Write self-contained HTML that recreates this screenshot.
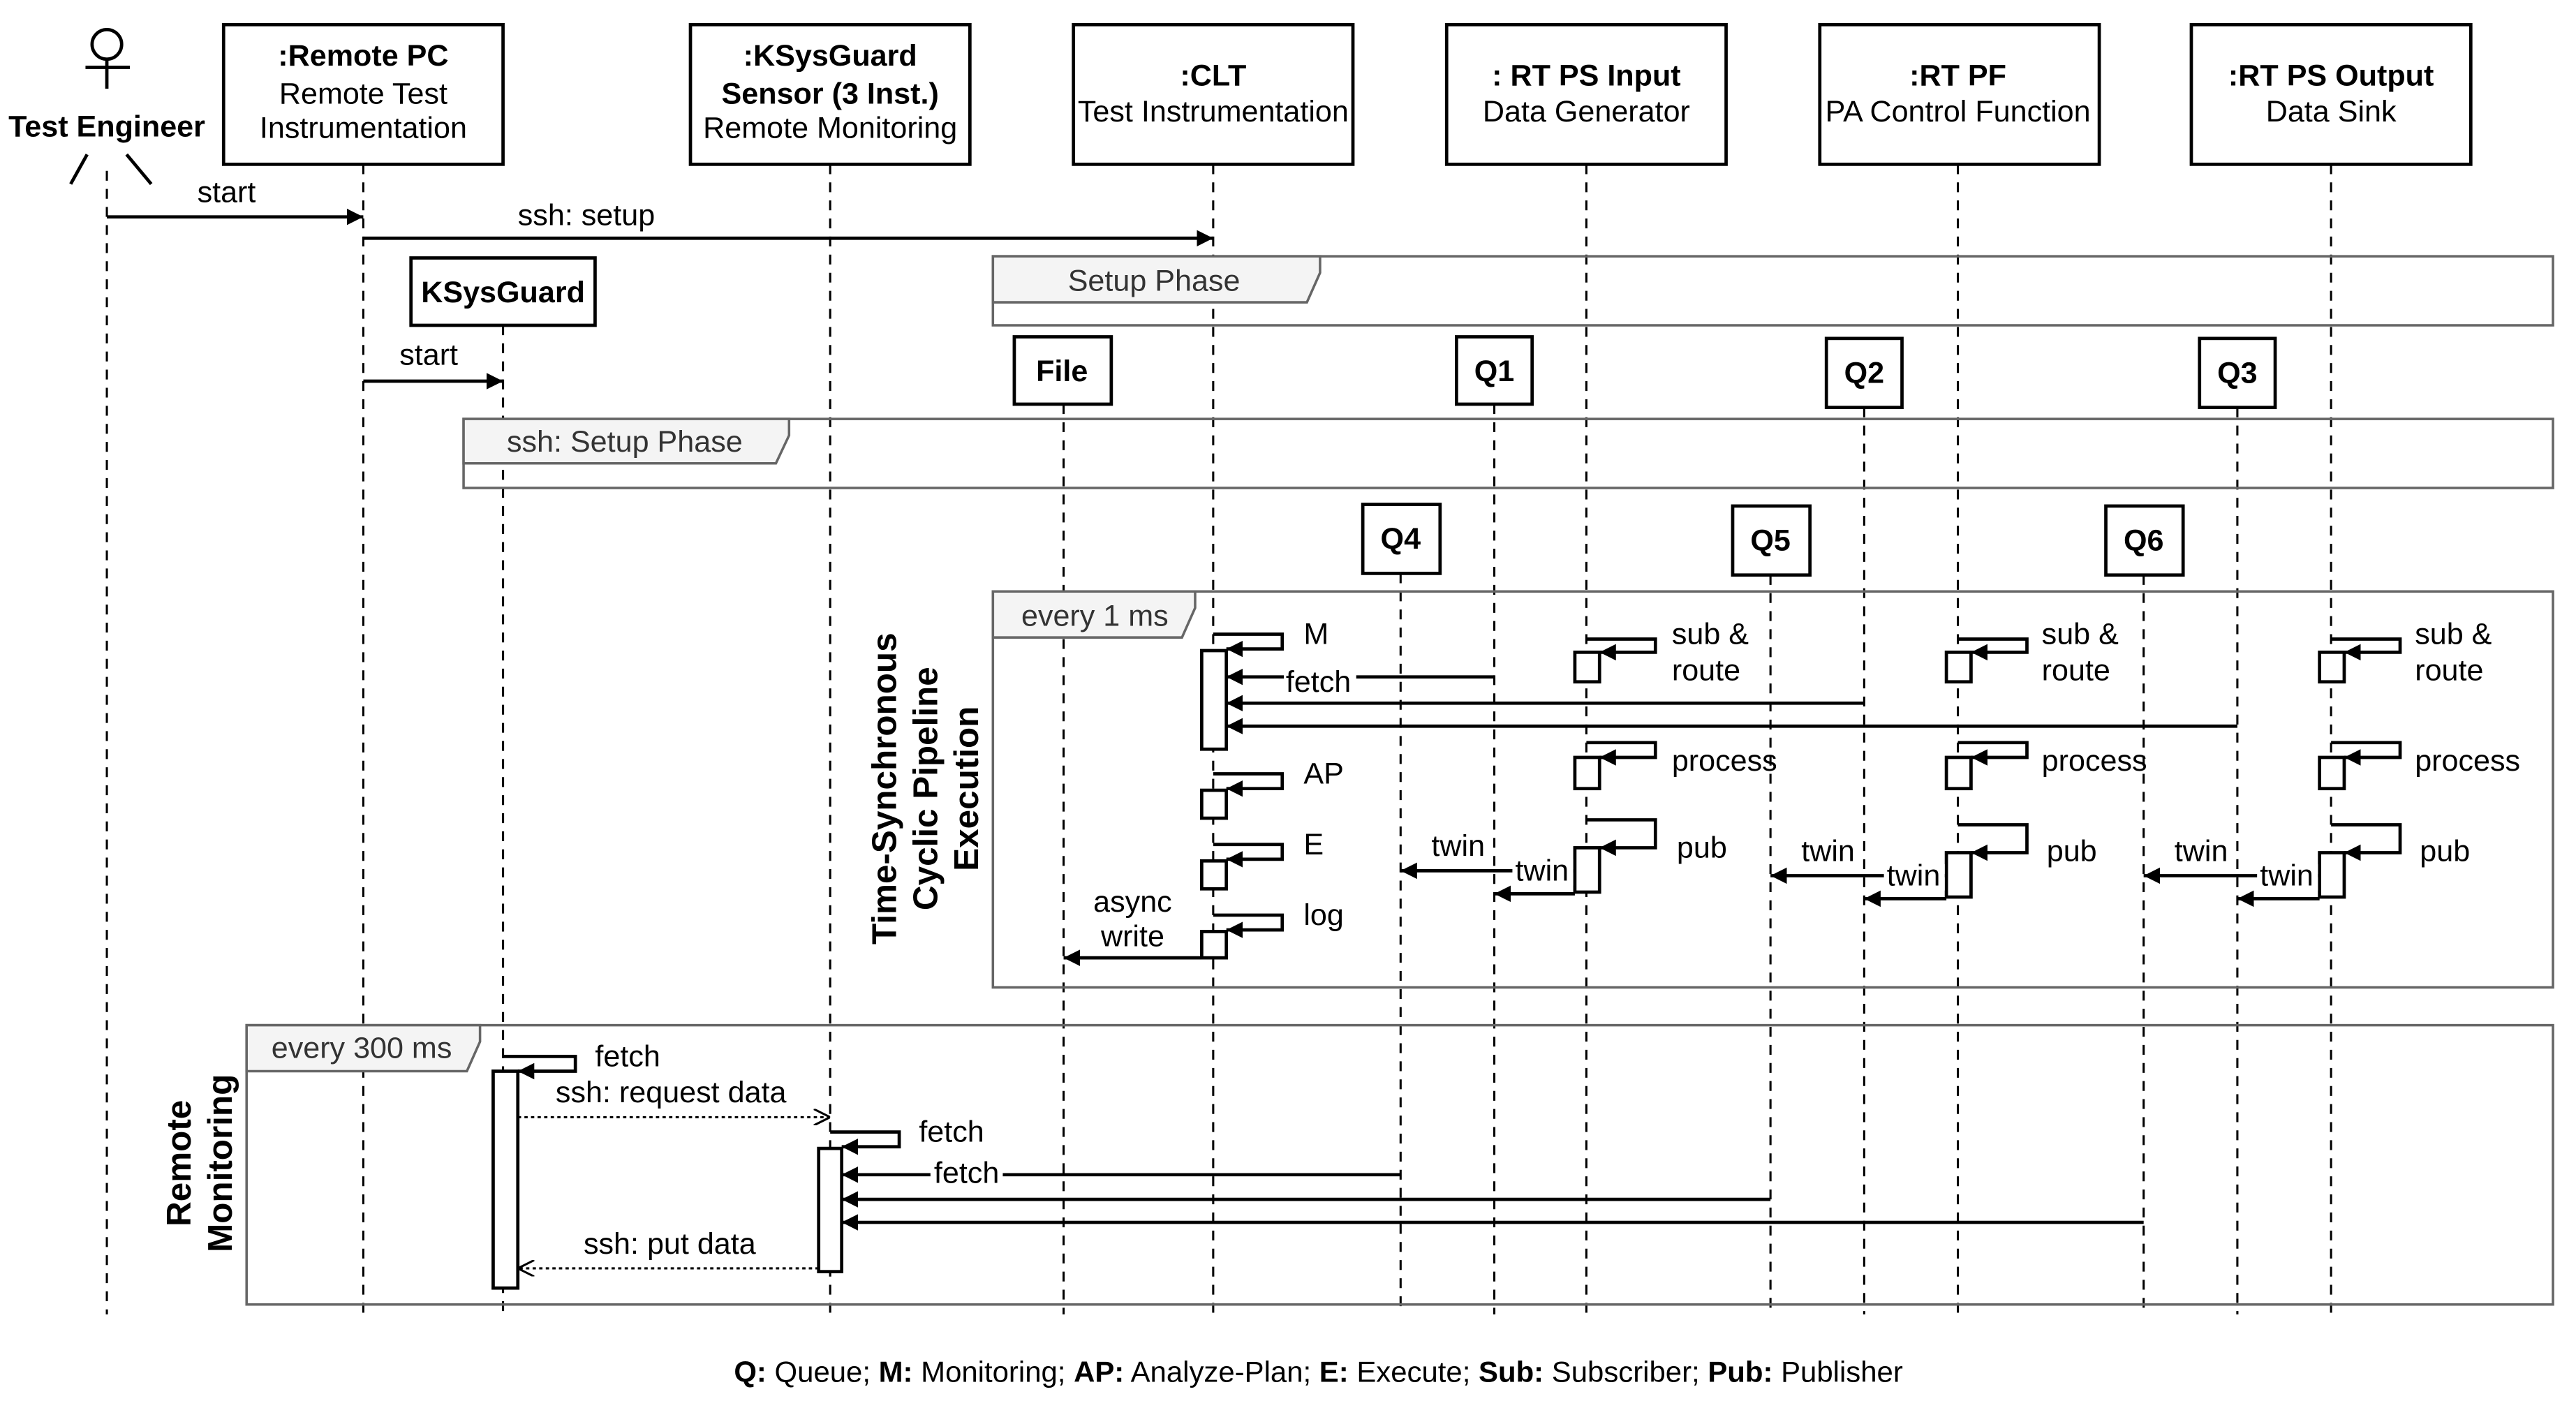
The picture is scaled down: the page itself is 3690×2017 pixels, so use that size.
<!DOCTYPE html>
<html><head><meta charset="utf-8"><style>
html,body{margin:0;padding:0;background:#fff}
svg{display:block}
text{font-family:"Liberation Sans",Arial,sans-serif;font-size:18.3px;fill:#000}
.b{font-weight:bold}
.g{fill:#333}
</style></head><body>
<svg width="3690" height="2017" viewBox="0 0 1567 857" preserveAspectRatio="none" xmlns="http://www.w3.org/2000/svg">
<defs>
<marker id="a" viewBox="0 0 10 10" refX="10" refY="5" markerWidth="10" markerHeight="10" markerUnits="userSpaceOnUse" orient="auto"><path d="M0,0L10,5L0,10z" fill="#000"/></marker>
<marker id="o" viewBox="0 0 10 10" refX="10" refY="5" markerWidth="10" markerHeight="10" markerUnits="userSpaceOnUse" orient="auto"><path d="M0,0L10,5L0,10" fill="none" stroke="#000" stroke-width="1.3"/></marker>
</defs>
<rect width="1567" height="857" fill="#fff"/>
<g stroke="#000" stroke-width="1.3" stroke-dasharray="6,5" fill="none">
<line x1="65" y1="104" x2="65" y2="800"/>
<line x1="221" y1="100" x2="221" y2="800"/>
<line x1="306" y1="198" x2="306" y2="800"/>
<line x1="505" y1="100" x2="505" y2="800"/>
<line x1="647" y1="246" x2="647" y2="800"/>
<line x1="738" y1="100" x2="738" y2="800"/>
<line x1="852" y1="349" x2="852" y2="800"/>
<line x1="909" y1="246" x2="909" y2="800"/>
<line x1="965" y1="100" x2="965" y2="800"/>
<line x1="1077" y1="350" x2="1077" y2="800"/>
<line x1="1134" y1="248" x2="1134" y2="800"/>
<line x1="1191" y1="100" x2="1191" y2="800"/>
<line x1="1304" y1="350" x2="1304" y2="800"/>
<line x1="1361" y1="248" x2="1361" y2="800"/>
<line x1="1418" y1="100" x2="1418" y2="800"/>
</g>
<g stroke="#666" stroke-width="1.5">
<rect x="604" y="156" width="949" height="42" fill="none"/>
<path d="M604,156H803V166L795,184H604Z" fill="#f4f4f4"/>
<rect x="282" y="255" width="1271" height="42" fill="none"/>
<path d="M282,255H480V265L472,282H282Z" fill="#f4f4f4"/>
<rect x="604" y="360" width="949" height="241" fill="none"/>
<path d="M604,360H727V370L719,388H604Z" fill="#f4f4f4"/>
<rect x="150" y="624" width="1403" height="170" fill="none"/>
<path d="M150,624H292V634L284,652H150Z" fill="#f4f4f4"/>
</g>
<text x="702" y="177" text-anchor="middle" class="g">Setup Phase</text>
<text x="380" y="275" text-anchor="middle" class="g">ssh: Setup Phase</text>
<text x="666" y="381" text-anchor="middle" class="g">every 1 ms</text>
<text x="220" y="644" text-anchor="middle" class="g">every 300 ms</text>
<g stroke="#000" stroke-width="2" fill="none">
<circle cx="65" cy="27" r="9"/>
<line x1="52" y1="41" x2="79" y2="41"/>
<line x1="65" y1="36" x2="65" y2="54"/>
<line x1="53" y1="94" x2="43" y2="112"/>
<line x1="77" y1="94" x2="92" y2="112"/>
</g>
<text x="65" y="83" text-anchor="middle" class="b">Test Engineer</text>
<g stroke="#000" stroke-width="2" fill="#fff">
<rect x="136" y="15" width="170" height="85"/>
<rect x="420" y="15" width="170" height="85"/>
<rect x="653" y="15" width="170" height="85"/>
<rect x="880" y="15" width="170" height="85"/>
<rect x="1107" y="15" width="170" height="85"/>
<rect x="1333" y="15" width="170" height="85"/>
<rect x="250" y="157" width="112" height="41"/>
<rect x="617" y="205" width="59" height="41"/>
<rect x="886" y="205" width="46" height="41"/>
<rect x="1111" y="206" width="46" height="42"/>
<rect x="1338" y="206" width="46" height="42"/>
<rect x="829" y="307" width="47" height="42"/>
<rect x="1054" y="308" width="47" height="42"/>
<rect x="1281" y="308" width="47" height="42"/>
</g>
<g text-anchor="middle">
<text x="221" y="40" class="b">:Remote PC</text><text x="221" y="63">Remote Test</text><text x="221" y="84">Instrumentation</text>
<text x="505" y="40" class="b">:KSysGuard</text><text x="505" y="63" class="b">Sensor (3 Inst.)</text><text x="505" y="84">Remote Monitoring</text>
<text x="738" y="52" class="b">:CLT</text><text x="738" y="74">Test Instrumentation</text>
<text x="965" y="52" class="b">: RT PS Input</text><text x="965" y="74">Data Generator</text>
<text x="1191" y="52" class="b">:RT PF</text><text x="1191" y="74">PA Control Function</text>
<text x="1418" y="52" class="b">:RT PS Output</text><text x="1418" y="74">Data Sink</text>
<text x="306" y="184" class="b">KSysGuard</text>
<text x="646" y="232" class="b">File</text>
<text x="909" y="232" class="b">Q1</text>
<text x="1134" y="233" class="b">Q2</text>
<text x="1361" y="233" class="b">Q3</text>
<text x="852" y="334" class="b">Q4</text>
<text x="1077" y="335" class="b">Q5</text>
<text x="1304" y="335" class="b">Q6</text>
</g>
<g stroke="#000" stroke-width="2" fill="none" marker-end="url(#a)">
<line x1="65" y1="132" x2="221" y2="132"/>
<line x1="221" y1="145" x2="738" y2="145"/>
<line x1="221" y1="232" x2="306" y2="232"/>
<path d="M738,386H780V395H746"/>
<path d="M738,471H780V480H746"/>
<path d="M738,514H780V523H746"/>
<path d="M738,557H780V566H746"/>
<line x1="909" y1="412" x2="746" y2="412"/>
<line x1="1134" y1="428" x2="746" y2="428"/>
<line x1="1361" y1="442" x2="746" y2="442"/>
<line x1="731" y1="583" x2="647" y2="583"/>
<path d="M965,389H1007V397H973"/><path d="M965,452H1007V461H973"/><path d="M965,499H1007V516H973"/>
<line x1="958" y1="530" x2="852" y2="530"/><line x1="958" y1="544" x2="909" y2="544"/>
<path d="M1191,389H1233V397H1199"/><path d="M1191,452H1233V461H1199"/><path d="M1191,502H1233V519H1199"/>
<line x1="1184" y1="533" x2="1077" y2="533"/><line x1="1184" y1="547" x2="1134" y2="547"/>
<path d="M1418,389H1460V397H1426"/><path d="M1418,452H1460V461H1426"/><path d="M1418,502H1460V519H1426"/>
<line x1="1411" y1="533" x2="1304" y2="533"/><line x1="1411" y1="547" x2="1361" y2="547"/>
<path d="M306,643H350V652H315"/>
<path d="M505,689H547V698H512"/>
<line x1="852" y1="715" x2="512" y2="715"/>
<line x1="1077" y1="730" x2="512" y2="730"/>
<line x1="1304" y1="744" x2="512" y2="744"/>
</g>
<g stroke="#000" stroke-width="1.3" fill="none" stroke-dasharray="2,2" marker-end="url(#o)">
<line x1="315" y1="680" x2="505" y2="680"/>
<line x1="498" y1="772" x2="315" y2="772"/>
</g>
<g stroke="#000" stroke-width="2" fill="#fff">
<rect x="731" y="396" width="15" height="60"/>
<rect x="731" y="481" width="15" height="17"/>
<rect x="731" y="524" width="15" height="17"/>
<rect x="731" y="567" width="15" height="16"/>
<rect x="958" y="397" width="15" height="18"/><rect x="958" y="461" width="15" height="19"/><rect x="958" y="516" width="15" height="27"/>
<rect x="1184" y="397" width="15" height="18"/><rect x="1184" y="461" width="15" height="19"/><rect x="1184" y="519" width="15" height="27"/>
<rect x="1411" y="397" width="15" height="18"/><rect x="1411" y="461" width="15" height="19"/><rect x="1411" y="519" width="15" height="27"/>
<rect x="300" y="652" width="15" height="132"/>
<rect x="498" y="699" width="14" height="75"/>
</g>
<g fill="#fff">
<rect x="781" y="405" width="44" height="16"/>
<rect x="920" y="523" width="37" height="16"/>
<rect x="1146" y="526" width="37" height="16"/>
<rect x="1373" y="526" width="37" height="16"/>
<rect x="566" y="707" width="44" height="16"/>
</g>
<text x="120" y="123">start</text>
<text x="315" y="137">ssh: setup</text>
<text x="243" y="222">start</text>
<text x="793" y="392">M</text>
<text x="802" y="421" text-anchor="middle">fetch</text>
<text x="793" y="477">AP</text>
<text x="793" y="520">E</text>
<text x="793" y="563">log</text>
<text x="689" y="555" text-anchor="middle">async</text>
<text x="689" y="576" text-anchor="middle">write</text>
<text x="1017" y="392">sub &amp;</text><text x="1017" y="414">route</text><text x="1017" y="469">process</text><text x="1020" y="522">pub</text>
<text x="887" y="521" text-anchor="middle">twin</text><text x="938" y="536" text-anchor="middle">twin</text>
<text x="1242" y="392">sub &amp;</text><text x="1242" y="414">route</text><text x="1242" y="469">process</text><text x="1245" y="524">pub</text>
<text x="1112" y="524" text-anchor="middle">twin</text><text x="1164" y="539" text-anchor="middle">twin</text>
<text x="1469" y="392">sub &amp;</text><text x="1469" y="414">route</text><text x="1469" y="469">process</text><text x="1472" y="524">pub</text>
<text x="1339" y="524" text-anchor="middle">twin</text><text x="1391" y="539" text-anchor="middle">twin</text>
<text x="362" y="649">fetch</text>
<text x="338" y="671">ssh: request data</text>
<text x="559" y="695">fetch</text>
<text x="588" y="720" text-anchor="middle">fetch</text>
<text x="355" y="763">ssh: put data</text>
<g text-anchor="middle" transform="translate(563,480) rotate(-90)">
<text x="0" y="-18" class="b" style="font-size:21px">Time-Synchronous</text>
<text x="0" y="7" class="b" style="font-size:21px">Cyclic Pipeline</text>
<text x="0" y="32" class="b" style="font-size:21px">Execution</text>
</g>
<g text-anchor="middle" transform="translate(122,708) rotate(-90)">
<text x="0" y="-6" class="b" style="font-size:21px">Remote</text>
<text x="0" y="19" class="b" style="font-size:21px">Monitoring</text>
</g>
<text x="802" y="841" text-anchor="middle" style="font-size:17.8px"><tspan class="b">Q:</tspan> Queue; <tspan class="b">M:</tspan> Monitoring; <tspan class="b">AP:</tspan> Analyze-Plan; <tspan class="b">E:</tspan> Execute; <tspan class="b">Sub:</tspan> Subscriber; <tspan class="b">Pub:</tspan> Publisher</text>
</svg>
</body></html>
